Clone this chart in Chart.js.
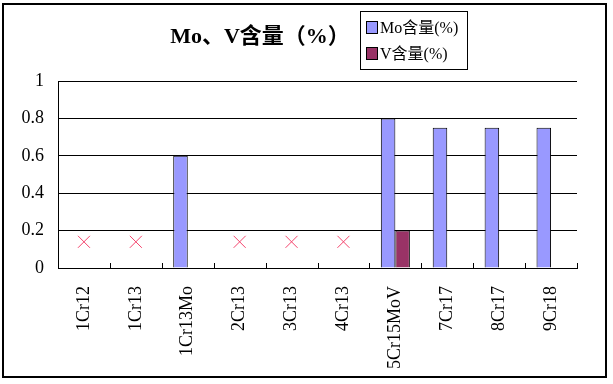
<!DOCTYPE html>
<html>
<head>
<meta charset="utf-8">
<script src="https://cdn.jsdelivr.net/npm/chart.js@4/dist/chart.umd.min.js"></script>
<style>
  html, body { margin: 0; padding: 0; background: #fff; }
  #wrap { position: relative; width: 613px; height: 384px; overflow: hidden; }
  #frame { position: absolute; left: 2px; top: 3px; width: 601px; height: 371px; border: 2px solid #000; pointer-events: none; }
  canvas { position: absolute; left: 0; top: 0; }
  #title { position: absolute; left: 150px; width: 220px; top: 17px; text-align: center;
    font: bold 22px "Liberation Serif", "Noto Sans CJK SC", serif; color: #000; white-space: nowrap; }
  #legend { position: absolute; left: 360px; top: 11px; width: 106px; height: 57px; border: 1px solid #000; background: #fff;
    font: 16px "Liberation Serif", "Noto Sans CJK SC", serif; color: #000; }
  .item { position: absolute; left: 5px; height: 18px; line-height: 18px; white-space: nowrap; }
  .sw { display: inline-block; width: 10px; height: 11px; border: 1px solid #000; vertical-align: -1px; margin-right: 2px; }
</style>
</head>
<body>
<div id="wrap">
  <canvas id="c" width="613" height="384"></canvas>
  <div id="title">Mo、V含量（%）</div>
  <div id="legend"></div>
  <div id="frame"></div>
</div>
<script>
const categories = ['1Cr12','1Cr13','1Cr13Mo','2Cr13','3Cr13','4Cr13','5Cr15MoV','7Cr17','8Cr17','9Cr18'];
const moValues   = [null, null, 0.6, null, null, null, 0.8, 0.75, 0.75, 0.75];
const vValues    = [null, null, null, null, null, null, 0.2, null, null, null];
const crossValues = [0.14, 0.14, null, 0.14, 0.14, 0.14, null, null, null, null];
const yTicks = [0, 0.2, 0.4, 0.6, 0.8, 1];
const seriesNames = ['Mo含量(%)', 'V含量(%)'];
const seriesColors = ['#9999FF', '#993366'];

// HTML legend
const leg = document.getElementById('legend');
seriesNames.forEach((n, i) => {
  const d = document.createElement('div');
  d.className = 'item';
  d.style.top = (7 + i * 26) + 'px';
  d.innerHTML = '<span class="sw" style="background:' + seriesColors[i] + '"></span>' + n;
  leg.appendChild(d);
});

const innerTicks = {
  id: 'innerTicks',
  afterDatasetsDraw(chart) {
    const xs = chart.scales.x, ctx = chart.ctx;
    const y = chart.chartArea.bottom;
    ctx.save();
    ctx.strokeStyle = '#000';
    ctx.lineWidth = 1;
    for (let i = 0; i <= categories.length; i++) {
      const x = Math.round(xs.getPixelForValue(i - 0.5)) + 0.5;
      ctx.beginPath();
      ctx.moveTo(x, y);
      ctx.lineTo(x, y - 5);
      ctx.stroke();
    }
    ctx.restore();
  }
};

const tickFont = { family: '"Liberation Serif", "Noto Sans CJK SC", serif', size: 18 };

new Chart(document.getElementById('c'), {
  type: 'bar',
  data: {
    labels: categories,
    datasets: [
      { label: seriesNames[0], data: moValues, backgroundColor: seriesColors[0], borderColor: '#000', borderWidth: 1, order: 2 },
      { label: seriesNames[1], data: vValues, backgroundColor: seriesColors[1], borderColor: '#000', borderWidth: 1, order: 2 },
      { type: 'line', label: 'x', data: crossValues, showLine: false, pointStyle: 'crossRot',
        pointRadius: 8.5, pointHoverRadius: 8.5, borderColor: '#F4436C', pointBorderWidth: 1, borderWidth: 1, order: 1 }
    ]
  },
  options: {
    responsive: false,
    animation: false,
    events: [],
    layout: { padding: { left: 0, right: 36, top: 81, bottom: 0 } },
    datasets: { bar: { barPercentage: 1.0, categoryPercentage: 0.56 } },
    plugins: { legend: { display: false }, title: { display: false }, tooltip: { enabled: false } },
    scales: {
      x: {
        offset: true,
        grid: { display: false, offset: true },
        border: { display: true, color: '#000', width: 1 },
        ticks: { minRotation: 90, maxRotation: 90, autoSkip: false, color: '#000', font: tickFont, padding: 10 },
        afterFit(s) { s.height = 116; }
      },
      y: {
        min: 0, max: 1,
        afterBuildTicks(s) { s.ticks = yTicks.map(v => ({ value: v })); },
        grid: { color: '#000', lineWidth: 1, drawTicks: false },
        border: { display: true, color: '#000', width: 1 },
        ticks: { color: '#000', font: tickFont, padding: 14, callback: (v) => String(v) },
        afterFit(s) { s.width = 58; }
      }
    }
  },
  plugins: [innerTicks]
});
</script>
</body>
</html>
